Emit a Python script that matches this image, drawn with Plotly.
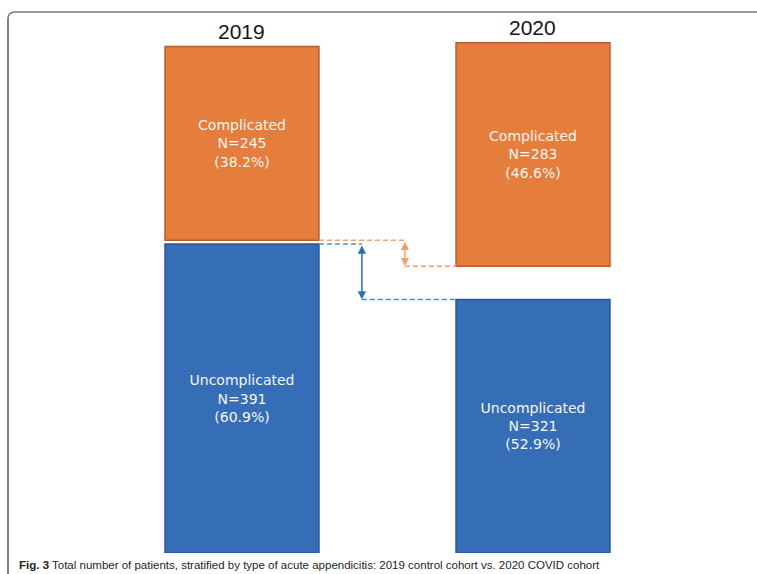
import plotly.graph_objects as go

# ---- data ----
years = ["2019", "2020"]
types = ["Complicated", "Uncomplicated"]
n_complicated = [245, 283]
n_uncomplicated = [391, 321]
pct_complicated = [38.2, 46.6]
pct_uncomplicated = [60.9, 52.9]

# ---- styling / layout constants ----
W, H = 757, 574
PLOT_BOTTOM_PX = 553          # pixel row of y = 0
Y_MAX = 700                   # top of the value axis
BAR_WIDTH = 0.529             # in category units
GAP = [5, 42]                 # visual gap between the two stacked blocks (value units)
X_RANGE = [-0.8316, 1.7698]

ORANGE = "#E57D3D"
ORANGE_EDGE = "#B5602B"
BLUE = "#356DB6"
BLUE_EDGE = "#2A5796"
ORANGE_LIGHT = "#F0A36C"
BLUE_LIGHT = "#5B86C6"
TEXT_FONT = "DejaVu Sans, Verdana, sans-serif"
HEAD_FONT = "Liberation Sans, Arial, sans-serif"

x = [0, 1]
orange_base = [u + g for u, g in zip(n_uncomplicated, GAP)]
totals = [b + c for b, c in zip(orange_base, n_complicated)]

fig = go.Figure()

fig.add_trace(go.Bar(
    x=x, y=n_uncomplicated, base=[0, 0], width=BAR_WIDTH,
    marker=dict(color=BLUE, line=dict(color=BLUE_EDGE, width=1.5)),
    text=[f"{types[1]}<br>N={n}<br>({p}%)" for n, p in zip(n_uncomplicated, pct_uncomplicated)],
    textposition="inside", insidetextanchor="middle", textangle=0,
    textfont=dict(family=TEXT_FONT, size=14, color="#F7F5F2"),
    hoverinfo="skip", showlegend=False,
))
fig.add_trace(go.Bar(
    x=x, y=n_complicated, base=orange_base, width=BAR_WIDTH,
    marker=dict(color=ORANGE, line=dict(color=ORANGE_EDGE, width=1.5)),
    text=[f"{types[0]}<br>N={n}<br>({p}%)" for n, p in zip(n_complicated, pct_complicated)],
    textposition="inside", insidetextanchor="middle", textangle=0,
    textfont=dict(family=TEXT_FONT, size=14, color="#FBF4EE"),
    hoverinfo="skip", showlegend=False,
))

shapes = []
annotations = []

# year headings above each column
for xi, yr, top in zip(x, years, totals):
    annotations.append(dict(
        x=xi, y=top, xref="x", yref="y", text=yr, showarrow=False,
        yanchor="bottom", yshift=2,
        font=dict(family=HEAD_FONT, size=21, color="#141414"),
    ))

# dashed connectors and double-headed arrows showing the shift between years
left_edge = x[0] + BAR_WIDTH / 2
right_edge = x[1] - BAR_WIDTH / 2
arrow_x_orange = 0.560
arrow_x_blue = 0.412

for y0, y1, ax_, col_line, col_arrow in [
    (orange_base[0], orange_base[1], arrow_x_orange, ORANGE_LIGHT, ORANGE_LIGHT),
    (n_uncomplicated[0], n_uncomplicated[1], arrow_x_blue, BLUE_LIGHT, "#2E6DB4"),
]:
    shapes.append(dict(type="line", xref="x", yref="y", x0=left_edge, x1=ax_, y0=y0, y1=y0,
                       line=dict(color=col_line, width=1.5, dash="5px,3px"), layer="above"))
    shapes.append(dict(type="line", xref="x", yref="y", x0=ax_, x1=right_edge, y0=y1, y1=y1,
                       line=dict(color=col_line, width=1.5, dash="5px,3px"), layer="above"))
    annotations.append(dict(
        x=ax_, y=y1, ax=ax_, ay=y0, xref="x", yref="y", axref="x", ayref="y",
        text="", showarrow=True, arrowhead=2, arrowside="end+start",
        arrowsize=1.1, arrowwidth=1.5, arrowcolor=col_arrow, standoff=0, startstandoff=0,
    ))

# figure frame: dark left rule, grey top rule with a rounded corner
plot_h = PLOT_BOTTOM_PX


def px(xp, yp):
    return f"{xp / W:.5f},{1 - yp / plot_h:.5f}"


shapes.append(dict(type="path", xref="paper", yref="paper",
                   path=f"M {px(8, 574)} L {px(8, 19)}",
                   line=dict(color="#2B2B2B", width=1.2), layer="above"))
shapes.append(dict(type="path", xref="paper", yref="paper",
                   path=f"M {px(8, 19)} Q {px(8, 12)} {px(15, 12)} L {px(757, 12)}",
                   line=dict(color="#7A7A7A", width=1.5), layer="above"))

# caption
annotations.append(dict(
    x=17 / W, y=1 - 565 / plot_h, xref="paper", yref="paper", xanchor="left", yanchor="middle",
    showarrow=False,
    text="<b>Fig. 3</b> Total number of patients, stratified by type of acute appendicitis: "
         "2019 control cohort vs. 2020 COVID cohort",
    font=dict(family=HEAD_FONT, size=11.5, color="#231F20"),
))

fig.update_layout(
    width=W, height=H,
    margin=dict(l=0, r=0, t=0, b=H - PLOT_BOTTOM_PX, pad=0),
    paper_bgcolor="white", plot_bgcolor="white",
    barmode="overlay",
    xaxis=dict(range=X_RANGE, visible=False, fixedrange=True),
    yaxis=dict(range=[0, Y_MAX], visible=False, fixedrange=True),
    shapes=shapes, annotations=annotations,
    uniformtext=dict(mode=False),
)

fig.write_html("out.html")
